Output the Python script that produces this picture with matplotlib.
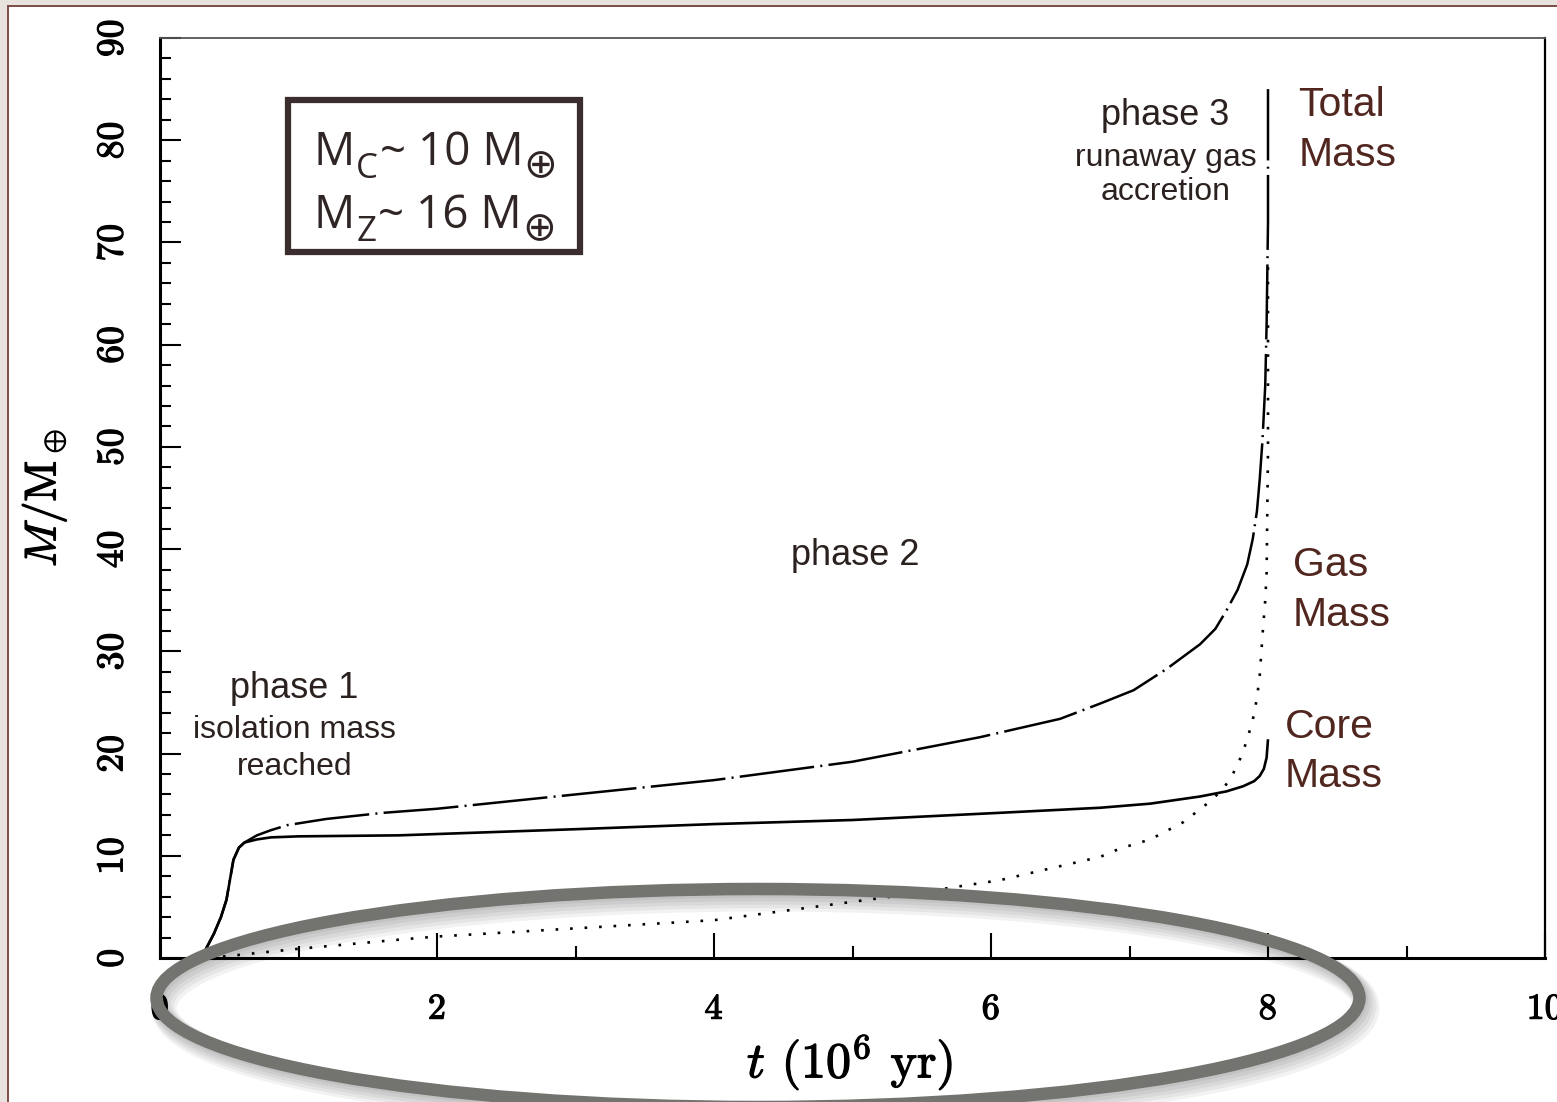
import matplotlib
matplotlib.use("Agg")
import matplotlib.pyplot as plt
import matplotlib.patheffects as pe
from matplotlib.patches import Ellipse, Rectangle
from matplotlib.ticker import MultipleLocator

plt.rcParams["mathtext.fontset"] = "cm"
plt.rcParams["axes.formatter.use_mathtext"] = True

# masa rdzenia (linia ciągła), odczyt z wykresu
core_t = [0.30, 0.34, 0.39, 0.44, 0.48, 0.53, 0.57, 0.61, 0.70, 0.80, 1.00, 1.73,
          3.00, 4.00, 5.00, 6.06, 6.79, 7.15, 7.51, 7.70, 7.82, 7.90, 7.94, 7.97,
          7.99, 8.00]
core_m = [0.0, 1.1, 2.4, 4.0, 5.7, 9.6, 10.8, 11.3, 11.6, 11.8, 11.9, 12.0,
          12.6, 13.1, 13.5, 14.2, 14.7, 15.1, 15.8, 16.3, 16.8, 17.3, 17.8, 18.5,
          19.6, 21.4]

# masa całkowita (kreska-kropka)
total_t = [0.30, 0.34, 0.39, 0.44, 0.48, 0.53, 0.57, 0.61, 0.70, 0.80, 0.92, 1.20,
           1.61, 2.00, 3.00, 4.00, 5.00, 5.92, 6.50, 6.79, 7.03, 7.27, 7.51, 7.62,
           7.70, 7.78, 7.85, 7.89, 7.92, 7.94, 7.96, 7.98, 7.99, 8.00, 8.00]
total_m = [0.0, 1.1, 2.4, 4.0, 5.7, 9.6, 10.8, 11.3, 12.0, 12.5, 13.0, 13.6,
           14.2, 14.6, 16.0, 17.4, 19.2, 21.6, 23.4, 24.9, 26.2, 28.3, 30.7, 32.2,
           34.0, 36.0, 38.5, 41.0, 43.7, 46.8, 50.6, 56.0, 62.0, 72.0, 85.0]

# masa gazu (kropki)
gas_t = [0.35, 1.00, 1.73, 2.00, 3.00, 4.00, 5.28, 6.06, 6.79, 6.93, 7.15, 7.39,
         7.58, 7.68, 7.75, 7.81, 7.85, 7.89, 7.92, 7.94, 7.96, 7.98, 7.99, 8.00,
         8.00, 8.00]
gas_m = [0.0, 0.9, 1.8, 2.1, 2.9, 3.7, 6.0, 7.6, 9.9, 10.7, 11.6, 13.3,
         15.3, 16.6, 18.1, 19.8, 21.4, 23.3, 25.4, 27.6, 31.5, 35.0, 37.7, 49.8,
         62.0, 68.0]

xticks = [0, 2, 4, 6, 8, 10]
yticks = [0, 10, 20, 30, 40, 50, 60, 70, 80, 90]

W, H = 1557, 1102
fig = plt.figure(figsize=(W / 100, H / 100), dpi=100, facecolor="#e8e3df")

# biała karta z cienką ramką
fig.patches.append(Rectangle((8 / W, -0.02), 1.05, 1.02 - 6 / H, transform=fig.transFigure,
                             facecolor="white", edgecolor="#7d4b45", lw=1.4, zorder=-5))

ax = fig.add_axes([160 / W, 144 / H, 1385 / W, 920 / H])
ax.set_xlim(0, 10)
ax.set_ylim(0, 90)

ax.plot(core_t, core_m, color="black", lw=1.9, solid_capstyle="butt")
ax.plot(total_t, total_m, color="black", lw=1.8, linestyle=(0, (30, 2.5, 0.8, 2.5)))
ax.plot(gas_t, gas_m, color="black", lw=1.9, linestyle=(0, (1, 4.5)))

ax.xaxis.set_minor_locator(MultipleLocator(1))
ax.yaxis.set_minor_locator(MultipleLocator(2))
ax.set_xticks(xticks)
ax.set_yticks(yticks)

thick = [pe.withStroke(linewidth=0.9, foreground="black")]
ax.tick_params(which="both", direction="in", top=False, right=False, width=1.5,
               labelfontfamily="cmr10")
ax.tick_params(axis="x", which="major", length=18, pad=26, labelsize=26)
ax.tick_params(axis="x", which="minor", length=8.5)
ax.tick_params(axis="y", which="major", length=15, pad=22, labelsize=27, labelrotation=90)
ax.tick_params(axis="y", which="minor", length=8)
for lbl in ax.get_yticklabels():
    lbl.set_verticalalignment("center")
for lbl in ax.get_xticklabels() + ax.get_yticklabels():
    lbl.set_path_effects(thick)

for side, lw, col in [("left", 2.2, "black"), ("bottom", 2.2, "black"),
                      ("top", 1.3, "#555555"), ("right", 1.6, "black")]:
    ax.spines[side].set_linewidth(lw)
    ax.spines[side].set_color(col)

ax.set_ylabel(r"$M/\mathrm{M}_\oplus$", fontfamily="cmr10", fontsize=32, labelpad=20,
              path_effects=thick)

# ramka z masami
ax.add_patch(Rectangle((0.924, 69.1), 2.106, 14.85, fill=False,
                       edgecolor="#3b2d2d", lw=4.5, zorder=5))
box_col = "#2f2525"


def chain(prev, s, dx, dy, size, family="Open Sans"):
    return ax.annotate(s, xy=(1, 0), xycoords=prev, xytext=(dx, dy),
                       textcoords="offset pixels", ha="left", va="bottom",
                       fontsize=size, fontfamily=family, color=box_col)


for y0, sub, num in [(77.6, "C", "10"), (71.4, "Z", "16")]:
    t0 = ax.text(1.105, y0, "M", fontsize=33, fontfamily="Open Sans", color=box_col,
                 va="baseline", ha="left")
    t1 = chain(t0, sub, 2, -10, 25)
    t2 = chain(t1, "~ " + num + " M", 2, 10, 33)
    chain(t2, "\u2295", 0, -10, 29, family="DejaVu Sans")

# opisy faz
ph = dict(fontfamily="Liberation Sans", color="#2b2220", ha="center", va="center")
ax.text(7.26, 82.4, "phase 3", fontsize=26, **ph)
ax.text(7.26, 78.3, "runaway gas", fontsize=23, **ph)
ax.text(7.26, 74.9, "accretion", fontsize=23, **ph)
ax.text(5.02, 39.4, "phase 2", fontsize=26, **ph)
ax.text(0.97, 26.4, "phase 1", fontsize=26, **ph)
ax.text(0.97, 22.3, "isolation mass", fontsize=23, **ph)
ax.text(0.97, 18.7, "reached", fontsize=23, **ph)

lab = dict(fontfamily="Liberation Sans", color="#50261f", ha="left", va="center",
           fontsize=29.5, linespacing=1.38)
ax.text(8.22, 81.0, "Total\nMass", **lab)
ax.text(8.18, 36.0, "Gas\nMass", **lab)
ax.text(8.12, 20.2, "Core\nMass", **lab)

# szara elipsa z cieniem
ex, ey, ew, eh = 758 / W, 1 - 998 / H, 1203 / W, 218 / H
for i in range(5):
    fig.patches.append(Ellipse((ex + 1.5 * (i + 1) / W, ey - 2.0 * (i + 1) / H), ew, eh,
                               transform=fig.transFigure, fill=False,
                               edgecolor="black", alpha=0.05, lw=10 + 2 * i, zorder=9))
fig.patches.append(Ellipse((ex, ey), ew, eh, transform=fig.transFigure, fill=False,
                           edgecolor="#73746f", lw=9, zorder=10))

# podpis osi x nad elipsą
fig.text(850 / W, 1 - 1062 / H, r"$t$ (10$^6$ yr)", fontfamily="cmr10", fontsize=36,
         ha="center", va="center", zorder=11, path_effects=thick)

fig.savefig("out.png", dpi=100, facecolor=fig.get_facecolor())
